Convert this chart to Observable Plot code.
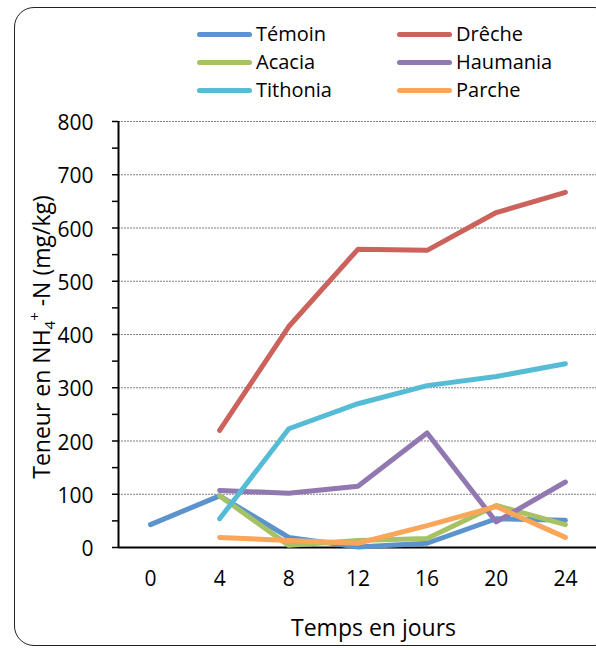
<!DOCTYPE html>
<html>
<head>
<meta charset="utf-8">
<script src="https://cdn.jsdelivr.net/npm/d3@7"></script>
<script src="https://cdn.jsdelivr.net/npm/@observablehq/plot@0.6"></script>
<style>
  html, body { margin: 0; padding: 0; background: #fff; }
  #wrap { position: relative; width: 596px; height: 650px; overflow: hidden; font-family: "Open Sans", sans-serif; }
  #border { position: absolute; left: 14px; top: 7px; width: 600px; height: 639px; border: 1.3px solid #222; border-radius: 20px; box-sizing: border-box; pointer-events: none; }
  #legend { position: relative; height: 110px; }
  .item { position: absolute; display: flex; align-items: center; font-size: 20px; color: #000; line-height: 1; }
  .sw { width: 55px; height: 5px; border-radius: 3px; margin-right: 4px; }
  #chart { position: absolute; left: 0; top: 110px; }
</style>
</head>
<body>
<div id="wrap">
  <div id="legend"></div>
  <div id="chart"></div>
  <div id="border"></div>
</div>
<script>
const days = [0, 4, 8, 12, 16, 20, 24];
const seriesNames = ["Témoin", "Drêche", "Acacia", "Haumania", "Tithonia", "Parche"];
const seriesColors = ["#5B93CC", "#CB625C", "#A6C264", "#9178B0", "#56BCD6", "#FAA659"];
const temoin   = [43, 97, 19, 1, 8, 54, 51];
const dreche   = [null, 220, 415, 560, 558, 629, 667];
const acacia   = [null, 97, 4, 13, 17, 79, 43];
const haumania = [null, 107, 102, 115, 215, 48, 123];
const tithonia = [null, 54, 223, 270, 304, 321, 345];
const parche   = [null, 19, 13, 8, 41, 77, 19];
const yTicks = [0, 100, 200, 300, 400, 500, 600, 700, 800];
const yMinorTicks = d3.range(0, 801, 50);

const seriesValues = [temoin, dreche, acacia, haumania, tithonia, parche];
const data = [];
seriesNames.forEach((name, i) => {
  days.forEach((d, j) => {
    const v = seriesValues[i][j];
    if (v != null) data.push({series: name, day: d, value: v});
  });
});

// Legend
const legend = document.getElementById("legend");
const colX = [197, 397];
const rowY = [34, 62, 90];
seriesNames.forEach((name, i) => {
  const el = document.createElement("div");
  el.className = "item";
  el.style.left = colX[i % 2] + "px";
  el.style.top = (rowY[Math.floor(i / 2)] - 10) + "px";
  el.innerHTML = `<span class="sw" style="background:${seriesColors[i]}"></span><span>${name}</span>`;
  legend.appendChild(el);
});

const xDomain = [-1.85, 25.8];
const marks = [
  Plot.gridY({ticks: yTicks.filter(t => t > 0), stroke: "#808080", strokeOpacity: 1, strokeDasharray: "2 1", strokeWidth: 1}),
  Plot.axisY({ticks: yMinorTicks, tickSize: 6, tickFormat: () => "", stroke: "#000", strokeWidth: 1.5, label: null}),
  Plot.axisY({ticks: yTicks, tickSize: 0, tickPadding: 25, fontSize: 21, dy: 2, label: null}),
  Plot.axisX({ticks: days, tickSize: 0, tickPadding: 24, fontSize: 21, label: null}),
  Plot.ruleY([0], {stroke: "#000", strokeWidth: 2}),
  Plot.ruleX([xDomain[0]], {stroke: "#000", strokeWidth: 2}),
];
seriesNames.forEach((name, i) => {
  marks.push(Plot.line(data.filter(d => d.series === name), {
    x: "day", y: "value", stroke: seriesColors[i], strokeWidth: 5, strokeLinecap: "round", strokeLinejoin: "round"
  }));
});
marks.push(Plot.text(["Temps en jours"], {frameAnchor: "bottom", dx: 16, dy: 88, fontSize: 23, fill: "#000"}));

const plot = Plot.plot({
  width: 596,
  height: 540,
  marginLeft: 118,
  marginRight: 0,
  marginTop: 11,
  marginBottom: 103,
  style: {fontFamily: "Open Sans", fontSize: "21px", color: "#000", background: "transparent", overflow: "visible"},
  x: {domain: xDomain, axis: null},
  y: {domain: [0, 800], axis: null},
  marks
});
document.getElementById("chart").appendChild(plot);

// Y axis title with sub/superscript
const svg = d3.select(plot);
const t = svg.append("text")
  .attr("transform", "translate(50,227) rotate(-90)")
  .attr("text-anchor", "middle")
  .attr("font-family", "Open Sans")
  .attr("font-size", 23)
  .attr("fill", "#000");
t.append("tspan").text("Teneur en NH");
t.append("tspan").attr("font-size", 15).attr("dy", 5).text("4");
t.append("tspan").attr("font-size", 15).attr("dy", -15).text("+");
t.append("tspan").attr("dy", 10).text(" -N (mg/kg)");
</script>
</body>
</html>
